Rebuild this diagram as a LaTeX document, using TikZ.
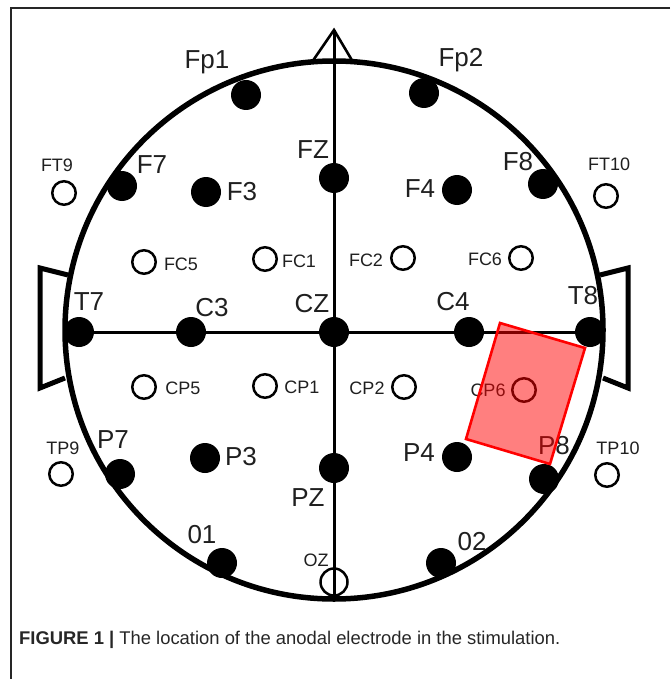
\documentclass[tikz,border=0pt]{standalone}
\usepackage{fontspec}
\setmainfont{Liberation Sans}
\begin{document}
\begin{tikzpicture}[x=1pt,y=-1pt,
  filled/.style={circle, fill=black, inner sep=0pt, minimum size=30pt},
  hollow/.style={circle, draw=black, line width=2.5pt, inner sep=0pt, minimum size=23.5pt},
  biglab/.style={inner sep=0pt, text=black!88, font=\fontsize{26}{26}\selectfont},
  smalllab/.style={inner sep=0pt, text=black!88, font=\fontsize{18}{18}\selectfont},
  axis/.style={line width=3pt, black},
  earline/.style={line width=5pt, black, line join=miter},
  frameline/.style={line width=1.6pt, black!85}]
\useasboundingbox (0,0) rectangle (670,679);
% frame
\coordinate (fTR) at (670,8);
\coordinate (fTL) at (11,8);
\coordinate (fBL) at (11,679);
\draw[frameline] (fTR) -- (fTL) -- (fBL);
% head
\node[circle, draw, line width=5.5pt, minimum size=538pt, inner sep=0pt] (head) at (334,330) {};
% nose
\coordinate (noseL) at (312,62);
\coordinate (noseA) at (334,30);
\coordinate (noseR) at (353,62);
\draw[line width=2.6pt, line join=miter] (noseL) -- (noseA) -- (noseR);
% ears
\draw[earline] (68,275) -- (40,268) -- (40,388) -- (65,378);
\draw[earline] (600,275) -- (628,268) -- (628,388) -- (603,378);
% axis coordinates
\coordinate (pT7) at (79,332);
\coordinate (pT8) at (590,332);
\coordinate (pBot) at (334,598);
\draw[axis] (noseA) -- (pBot);
\draw[axis] (pT7) -- (pT8);
% filled electrodes
\node[filled] (Fp1) at (246,95) {};
\node[filled] (Fp2) at (424,93) {};
\node[filled] (F7) at (122,186) {};
\node[filled] (F8) at (543,184) {};
\node[filled] (FZ) at (334,178) {};
\node[filled] (F3) at (206,192) {};
\node[filled] (F4) at (457,190) {};
\node[filled] (T7) at (pT7) {};
\node[filled] (C3) at (191,332) {};
\node[filled] (CZ) at (334,332) {};
\node[filled] (C4) at (469,332) {};
\node[filled] (T8) at (pT8) {};
\node[filled] (P7) at (120,474) {};
\node[filled] (P8) at (544,479) {};
\node[filled] (P3) at (205,458) {};
\node[filled] (P4) at (457,457) {};
\node[filled] (PZ) at (334,468) {};
\node[filled] (O1) at (222,563) {};
\node[filled] (O2) at (441,563) {};
% hollow electrodes
\node[hollow] (FT9) at (64,193) {};
\node[hollow] (FT10) at (606,196) {};
\node[hollow] (FC5) at (144,262) {};
\node[hollow] (FC1) at (265,259) {};
\node[hollow] (FC2) at (403,258) {};
\node[hollow] (FC6) at (521,258) {};
\node[hollow] (CP5) at (144,387) {};
\node[hollow] (CP1) at (265,386) {};
\node[hollow] (CP2) at (404,387) {};
\node[hollow] (CP6) at (524,390) {};
\node[hollow] (TP9) at (61,474) {};
\node[hollow] (TP10) at (607,475) {};
\node[hollow, minimum size=27pt] (OZ) at (334,582) {};
% labels
\node[biglab] (lFp1) at (207,62) {Fp1};
\node[biglab] (lFp2) at (461,60) {Fp2};
\node[biglab] (lF7) at (152,165) {F7};
\node[biglab] (lF8) at (518,162) {F8};
\node[biglab] (lFZ) at (313,150) {FZ};
\node[biglab] (lF3) at (242,192) {F3};
\node[biglab] (lF4) at (420,189) {F4};
\node[biglab] (lT7) at (89,302) {T7};
\node[biglab] (lC3) at (212,308) {C3};
\node[biglab] (lCZ) at (312,304) {CZ};
\node[biglab] (lC4) at (453,302) {C4};
\node[biglab] (lT8) at (583,296) {T8};
\node[biglab] (lP7) at (113,440) {P7};
\node[biglab] (lP8) at (554,446) {P8};
\node[biglab] (lP3) at (241,457) {P3};
\node[biglab] (lP4) at (419,453) {P4};
\node[biglab] (lPZ) at (308,498) {PZ};
\node[biglab] (lO1) at (202,535) {01};
\node[biglab] (lO2) at (472,542) {02};
\node[smalllab] (lFT9) at (57,165) {FT9};
\node[smalllab] (lFT10) at (609,164) {FT10};
\node[smalllab] (lFC5) at (181,264) {FC5};
\node[smalllab] (lFC1) at (299,261) {FC1};
\node[smalllab] (lFC2) at (366,260) {FC2};
\node[smalllab] (lFC6) at (485,259) {FC6};
\node[smalllab] (lCP5) at (183,388) {CP5};
\node[smalllab] (lCP1) at (302,387) {CP1};
\node[smalllab] (lCP2) at (367,388) {CP2};
\node[smalllab] (lCP6) at (488,390) {CP6};
\node[smalllab] (lTP9) at (63,448) {TP9};
\node[smalllab] (lTP10) at (618,448) {TP10};
\node[smalllab] (lOZ) at (316,560) {OZ};
% anodal electrode
\coordinate (r1) at (500,323);
\coordinate (r2) at (585,348);
\coordinate (r3) at (550,464);
\coordinate (r4) at (466,439);
\draw[red, line width=2.6pt, fill=red, fill opacity=0.5, line join=miter] (r1) -- (r2) -- (r3) -- (r4) -- cycle;
% caption
\node[anchor=west, inner sep=0pt, text=black!85, font=\fontsize{18.4}{19}\selectfont] (cap) at (19,640) {\textbf{FIGURE 1 |} The location of the anodal electrode in the stimulation.};
\end{tikzpicture}
\end{document}
